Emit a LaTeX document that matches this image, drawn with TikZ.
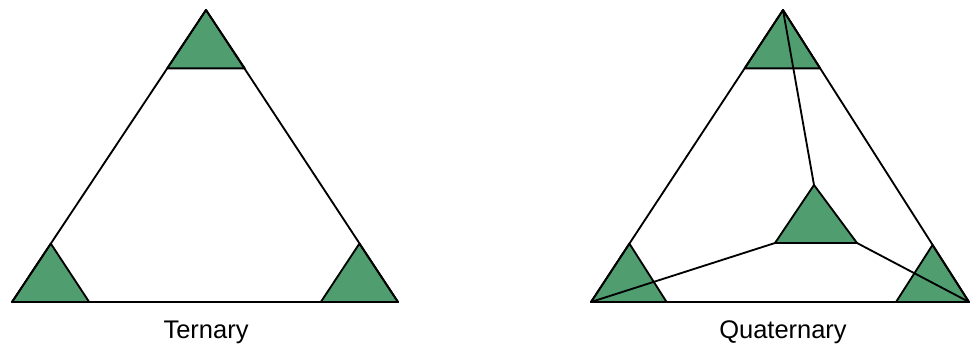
\documentclass[tikz,border=0pt]{standalone}
\usepackage{fontspec}
\setmainfont{Liberation Sans}
\definecolor{phasegreen}{RGB}{80,157,112}

\begin{document}
\begin{tikzpicture}[x=0.02cm,y=-0.02cm,
  outline/.style={draw=black,line width=1.05pt,line join=round},
  phasecell/.style={fill=phasegreen,draw=black,line width=1.05pt,line join=round},
  caption/.style={anchor=base,font=\fontsize{14.5}{17}\selectfont}]
\useasboundingbox (0,0) rectangle (970,351);

% ternary corners
\coordinate (T1) at (206,10);
\coordinate (T2) at (12,302);
\coordinate (T3) at (398,302);
\coordinate (T1a) at (167.2,68.4);
\coordinate (T1b) at (244.8,68.4);
\coordinate (T2a) at (89.2,302);
\coordinate (T2b) at (50.8,243.6);
\coordinate (T3a) at (320.8,302);
\coordinate (T3b) at (359.4,243.6);

\filldraw[phasecell] (T1) -- (T1a) -- (T1b) -- cycle;
\filldraw[phasecell] (T2) -- (T2a) -- (T2b) -- cycle;
\filldraw[phasecell] (T3) -- (T3a) -- (T3b) -- cycle;
\path[outline] (T1) -- (T2) -- (T3) -- cycle;

\node[caption] (Tlab) at (206,338) {Ternary};

% quaternary corners
\coordinate (Q1) at (783,10);
\coordinate (Q2) at (591,302);
\coordinate (Q3) at (969,302);
\coordinate (Q1a) at (744.6,68.4);
\coordinate (Q1b) at (820.2,68.4);
\coordinate (Q2a) at (666.6,302);
\coordinate (Q2b) at (629.4,243.6);
\coordinate (Q3a) at (896,302);
\coordinate (Q3b) at (932.5,245);

% inner phase
\coordinate (C1) at (814,185);
\coordinate (C2) at (775,243);
\coordinate (C3) at (857,243);

\filldraw[phasecell] (Q1) -- (Q1a) -- (Q1b) -- cycle;
\filldraw[phasecell] (Q2) -- (Q2a) -- (Q2b) -- cycle;
\filldraw[phasecell] (Q3) -- (Q3a) -- (Q3b) -- cycle;
\filldraw[phasecell] (C1) -- (C2) -- (C3) -- cycle;
\path[outline] (Q1) -- (Q2) -- (Q3) -- cycle;

\path[outline] (Q1) edge (C1);
\path[outline] (Q2) edge (C2);
\path[outline] (Q3) edge (C3);

\node[caption] (Qlab) at (783,338) {Quaternary};

\end{tikzpicture}
\end{document}
